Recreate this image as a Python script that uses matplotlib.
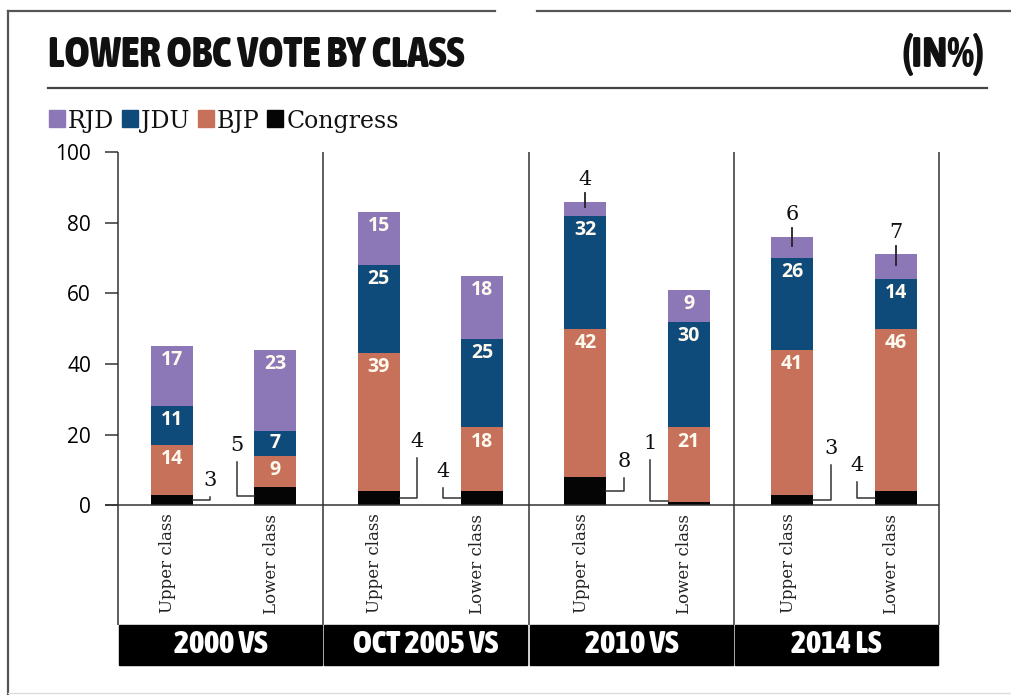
import matplotlib
matplotlib.use('Agg')
import matplotlib.pyplot as plt
from matplotlib.patches import Rectangle
from matplotlib.lines import Line2D
from matplotlib import font_manager
from matplotlib.font_manager import FontProperties

# data (in %)
groups = ['2000 VS', 'OCT 2005 VS', '2010 VS', '2014 LS']
classes = ['Upper class', 'Lower class']
congress = [3, 5, 4, 4, 8, 1, 3, 4]
bjp = [14, 9, 39, 18, 42, 21, 41, 46]
jdu = [11, 7, 25, 25, 32, 30, 26, 14]
rjd = [17, 23, 15, 18, 4, 9, 6, 7]
legend_names = ['RJD', 'JDU', 'BJP', 'Congress']
yticks = [0, 20, 40, 60, 80, 100]

colors = {'RJD': '#8c78b6', 'JDU': '#0e4a7a', 'BJP': '#c8715a', 'Congress': '#050505'}

ttf = font_manager.fontManager.ttflist
names = {f.name for f in ttf}
sans = 'Open Sans' if 'Open Sans' in names else 'DejaVu Sans'
serif = 'DejaVu Serif'


def weight_num(w):
    if isinstance(w, int):
        return w
    return {'bold': 700, 'heavy': 800, 'black': 900, 'extra bold': 800,
            'semibold': 600, 'demibold': 600}.get(str(w).lower(), 400)


# look for a condensed bold face for the headline text
cond = None
best = 10 ** 6
for f in ttf:
    tag = (f.name + ' ' + f.fname).lower()
    narrow_face = ('condensed' in tag or 'narrow' in tag or
                   str(f.stretch) in ('condensed', 'semi-condensed', 'extra-condensed'))
    if not narrow_face or f.style != 'normal' or 'italic' in tag:
        continue
    score = abs(weight_num(f.weight) - 760)
    if 'semicondensed' in tag or 'semi-condensed' in tag:
        score += 50
    if score < best:
        best, cond = score, f.fname
if cond:
    head = dict(fontproperties=FontProperties(fname=cond))
    head_bold = {}
else:
    head = dict(fontfamily='Liberation Sans')
    head_bold = dict(fontweight='bold')

W, H = 1012, 695
fig = plt.figure(figsize=(W / 100, H / 100), dpi=100)


def fx(px):
    return px / W


def fy(py):
    return 1 - py / H


ax = fig.add_axes([fx(118), 30 / H, 821 / W, 515 / H])
ax.set_xlim(-0.51, 3.46)
ax.set_ylim(-45.3, 100.6)
for s in ax.spines.values():
    s.set_visible(False)
ax.set_xticks([])
ax.set_yticks(yticks)
ax.tick_params(axis='y', length=9.4, width=1.1, pad=10, color='#333333', labelsize=15)
for lab in ax.get_yticklabels():
    lab.set_fontfamily(sans)

line_col = '#333333'
seps = [-0.51, 0.48, 1.475, 2.47, 3.46]
ax.vlines(seps, -34, 100, color=line_col, lw=1.1, clip_on=False)
ax.hlines(0, -0.573, 3.46, color=line_col, lw=1.1, clip_on=False)

# black group boxes
gap = 0.005
for i, g in enumerate(groups):
    ax.add_patch(Rectangle((seps[i] + gap, -45.3), seps[i + 1] - seps[i] - 2 * gap, 11.3,
                           color='black', clip_on=False))
    t = ax.text((seps[i] + seps[i + 1]) / 2, -39.6, g, color='white',
                ha='center', va='center', **head, **head_bold)
    t.set_fontsize(23 if cond else 19)

bw = 0.203
xs = [g + (-0.25 if c == 0 else 0.25) for g in range(len(groups)) for c in range(2)]
series = [('Congress', congress), ('BJP', bjp), ('JDU', jdu), ('RJD', rjd)]

# leader heights for small labels (layout)
cong_top = [2.3, 12.3, 13.4, 4.9, 7.7, 12.9, 11.4, 6.6]

bottoms = [0] * len(xs)
for name, vals in series:
    ax.bar(xs, vals, width=bw, bottom=bottoms, color=colors[name], linewidth=0)
    for k, (x, v, b) in enumerate(zip(xs, vals, bottoms)):
        top = b + v
        if name == 'Congress':
            side = 1 if k % 2 == 0 else -1
            x0 = x + side * bw / 2
            x1 = x0 + side * 0.085
            hy = max(v / 2, 1.2)
            ax.plot([x0, x1, x1], [hy, hy, cong_top[k]], color=line_col, lw=1.1)
            ax.text(x1, cong_top[k] + 2.0, str(v), fontsize=15, fontfamily=serif,
                    ha='center', va='bottom', color='#111111')
        elif name == 'RJD' and v < 8:
            ax.plot([x, x], [b + v / 2 + 0.5, top + 2.5], color='#222222', lw=1.3)
            ax.text(x, top + 3.6, str(v), fontsize=15, fontfamily=serif,
                    ha='center', va='bottom', color='#111111')
        else:
            cy = max(top - 4.0, b + v / 2)
            ax.text(x, cy, str(v), fontsize=14, fontweight='bold', fontfamily=sans,
                    ha='center', va='center', color='#fffaf0')
    bottoms = [b + v for b, v in zip(bottoms, vals)]

# category labels
for k, x in enumerate(xs):
    ax.text(x - 0.02, -2.4, classes[k % 2], rotation=90, fontsize=12, fontfamily=serif,
            ha='center', va='top', color='#222222')

# header
t1 = fig.text(fx(48), fy(67), 'LOWER OBC VOTE BY CLASS', va='baseline', ha='left',
              color='#111111', **head, **head_bold)
t2 = fig.text(fx(985), fy(67), '(IN%)', va='baseline', ha='right',
              color='#111111', **head, **head_bold)
fig.canvas.draw()
r = fig.canvas.get_renderer()
# size the headline so it spans the same width as in the source
size = 20
t1.set_fontsize(size)
w = t1.get_window_extent(renderer=r).width
size = min(size * 417 / w, 40)
t1.set_fontsize(size)
t2.set_fontsize(size)

fig.add_artist(Line2D([fx(48), fx(987)], [fy(88), fy(88)], color='#444444', lw=1.6))
fig.add_artist(Line2D([fx(8), fx(8)], [fy(11), 0], color='#555555', lw=1.6))
fig.add_artist(Line2D([fx(8), fx(495)], [fy(11), fy(11)], color='#555555', lw=1.6))
fig.add_artist(Line2D([fx(537), 1], [fy(11), fy(11)], color='#555555', lw=1.6))
fig.add_artist(Line2D([fx(8), 1], [fy(693), fy(693)], color='#dddddd', lw=1.0))

# legend
px = 49
for name in legend_names:
    fig.add_artist(Rectangle((fx(px), fy(127)), 16 / W, 17 / H, color=colors[name],
                             transform=fig.transFigure))
    t = fig.text(fx(px + 19), fy(128), name, fontsize=17, fontfamily=serif,
                 va='baseline', ha='left', color='#111111')
    bb = t.get_window_extent(renderer=r)
    px = bb.x1 + 8

fig.savefig('out.png', dpi=100)
